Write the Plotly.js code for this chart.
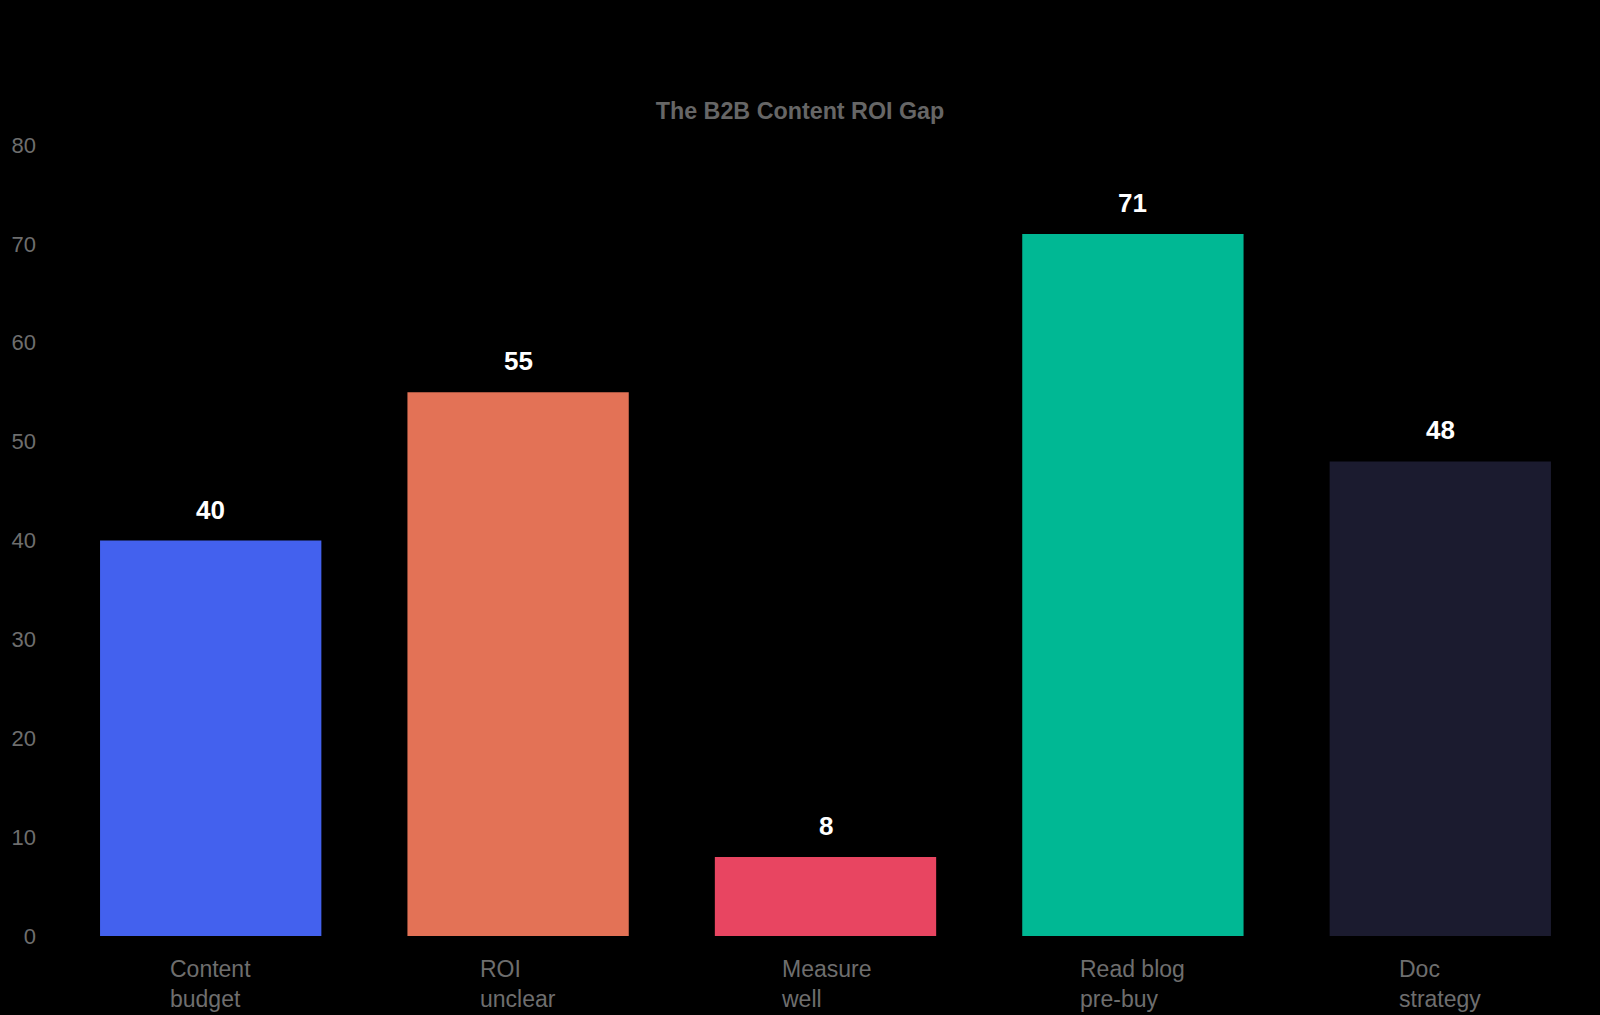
<!DOCTYPE html>
<html>
<head>
<meta charset="utf-8">
<script src="https://cdn.plot.ly/plotly-3.0.1.min.js"></script>
<style>
  html, body { margin: 0; padding: 0; background: #000; }
  #chart { width: 1600px; height: 1015px; }
</style>
</head>
<body>
<div id="chart"></div>
<script>
// ======== DATA ========
var categories = ['Content budget', 'ROI unclear', 'Measure well', 'Read blog pre-buy', 'Doc strategy'];
var tickLabels = ['Content<br>budget', 'ROI<br>unclear', 'Measure<br>well', 'Read blog<br>pre-buy', 'Doc<br>strategy'];
var values = [40, 55, 8, 71, 48];
var barColors = ['#4361EE', '#E37256', '#E84561', '#00B894', '#1B1B2F'];

var font = 'Liberation Sans, Arial, sans-serif';

var trace = {
  x: categories,
  y: values,
  type: 'bar',
  marker: { color: barColors },
  hoverinfo: 'x+y'
};

// value labels above the bars + category labels under the axis
var annotations = [];
for (var i = 0; i < categories.length; i++) {
  annotations.push({
    x: categories[i],
    y: values[i],
    xref: 'x',
    yref: 'y',
    text: String(values[i]),
    showarrow: false,
    yanchor: 'bottom',
    yshift: 14,
    font: { family: font, size: 26, color: '#ffffff', weight: 'bold' }
  });
  annotations.push({
    x: categories[i],
    y: 0,
    xref: 'x',
    yref: 'y',
    text: tickLabels[i],
    showarrow: false,
    align: 'left',
    yanchor: 'top',
    yshift: -18,
    font: { family: font, size: 23, color: '#6e6e6e' }
  });
}

var layout = {
  width: 1600,
  height: 1015,
  title: {
    text: 'The B2B Content ROI Gap',
    x: 0.5,
    xref: 'container',
    y: 0.8906,
    yref: 'container',
    yanchor: 'middle',
    font: { family: font, size: 23.3, color: '#666666', weight: 'bold' }
  },
  paper_bgcolor: '#000000',
  plot_bgcolor: '#000000',
  margin: { l: 57, r: 6, t: 145, b: 79, pad: 0 },
  bargap: 0.28,
  showlegend: false,
  xaxis: {
    showticklabels: false,
    showgrid: false,
    zeroline: false,
    showline: false
  },
  yaxis: {
    range: [0, 80],
    dtick: 10,
    showgrid: false,
    zeroline: false,
    showline: false,
    ticklabelstandoff: 20,
    tickfont: { family: font, size: 22, color: '#6e6e6e' }
  },
  annotations: annotations
};

Plotly.newPlot('chart', [trace], layout, { displayModeBar: false, staticPlot: true });
</script>
</body>
</html>
